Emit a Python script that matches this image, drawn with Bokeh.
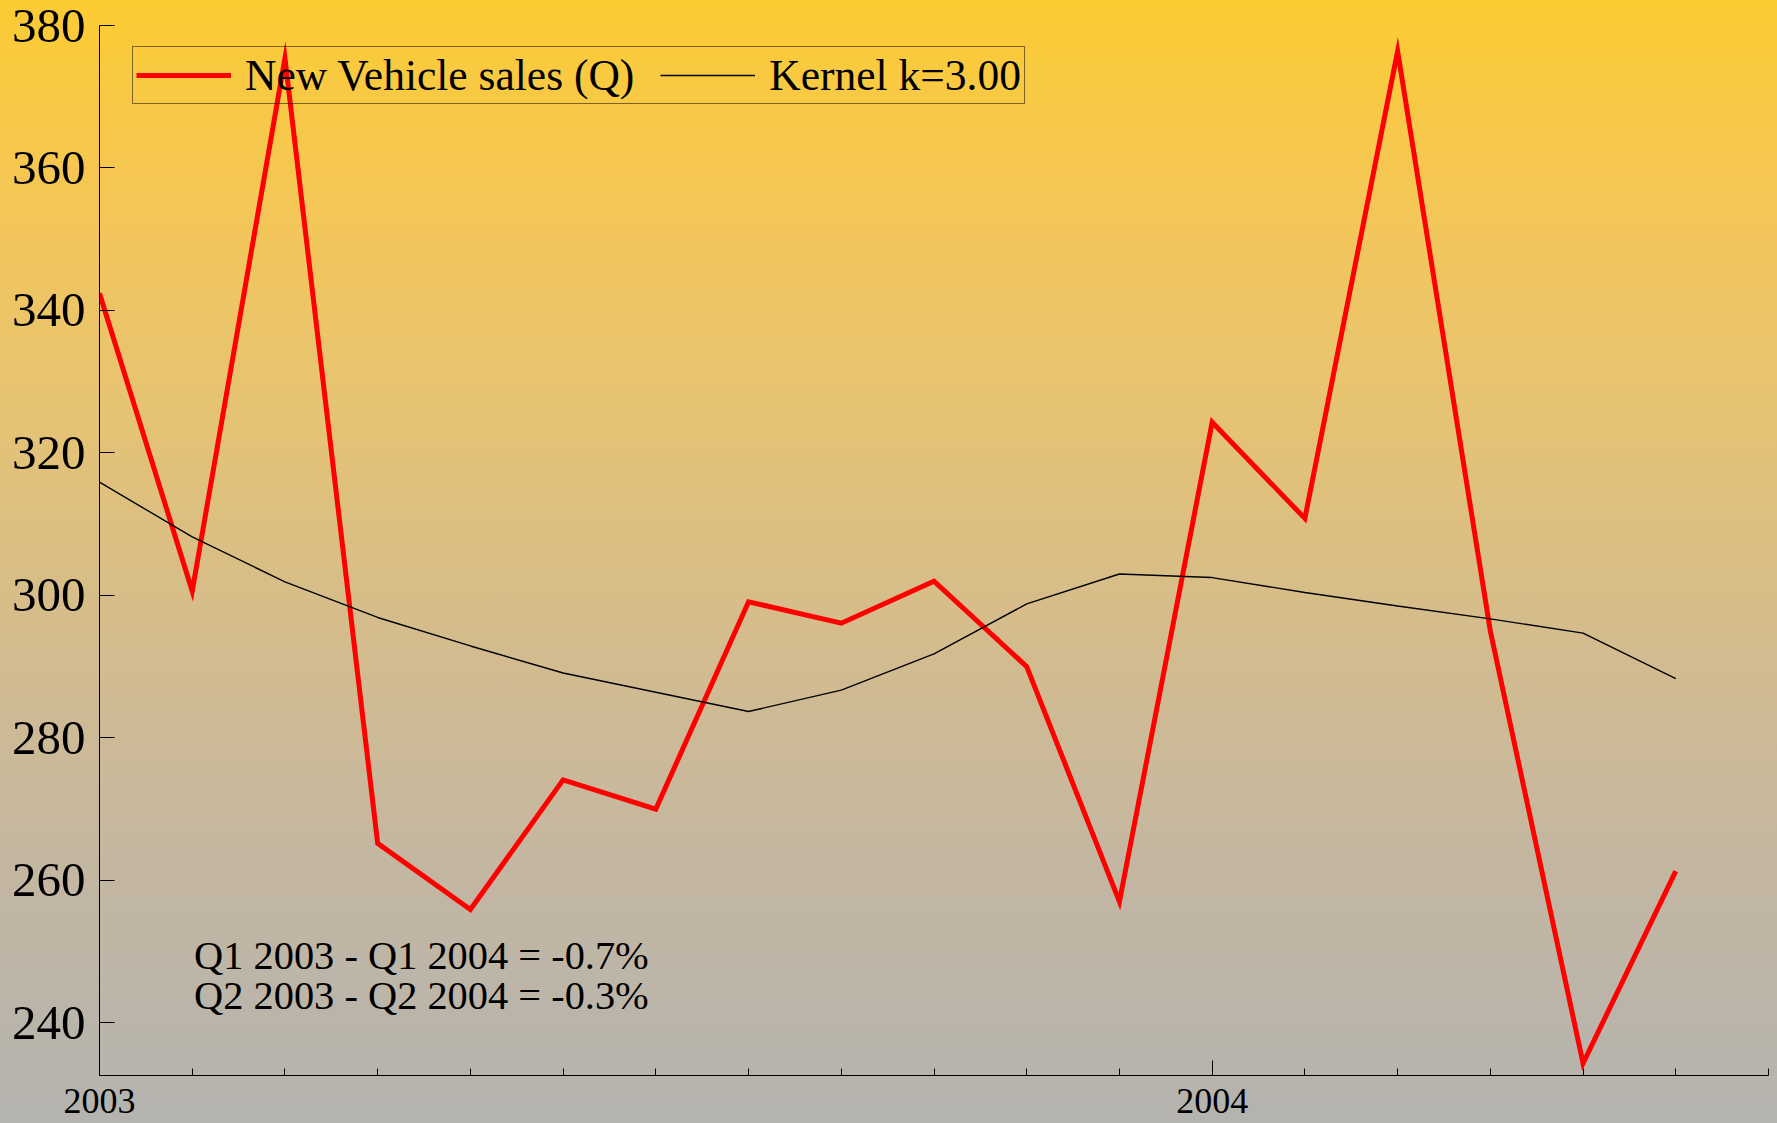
from bokeh.plotting import figure
from bokeh.models import FixedTicker, Legend, LegendItem, Label
from bokeh.embed import file_html
from bokeh.resources import INLINE

# ---- data (monthly, Jan 2003 .. Jun 2004) ----
start_year = 2003
sales = [342.4, 300.6, 375.4, 265.2, 255.9, 274.1, 270.0, 299.1, 296.1,
         302.0, 290.0, 257.0, 324.3, 310.8, 376.4, 295.0, 234.3, 261.3]
kernel = [315.9, 308.2, 301.9, 296.9, 292.9, 289.1, 286.4, 283.7, 286.7,
          291.8, 298.8, 303.0, 302.5, 300.4, 298.5, 296.7, 294.7, 288.3]
year_ticks = [2003, 2004]
y_ticks = [240, 260, 280, 300, 320, 340, 360, 380]
notes = ["Q1 2003 - Q1 2004 = -0.7%", "Q2 2003 - Q2 2004 = -0.3%"]
note_y = [249.5, 243.8]
series_names = ["New Vehicle sales (Q)", "Kernel k=3.00"]

x = [start_year + i / 12 for i in range(len(sales))]
month_ticks = [start_year + i / 12 for i in range(len(sales) + 1)]

FONT = "Liberation Serif"

p = figure(width=1777, height=1123, output_backend="svg", toolbar_location=None,
           x_range=(2003, 2004.5), y_range=(232.6, 380),
           min_border_left=99, min_border_right=9, min_border_top=25,
           min_border_bottom=48)
p.background_fill_alpha = 0
p.border_fill_alpha = 0
p.outline_line_color = None
p.grid.visible = False

r_sales = p.line(x, sales, line_color="#FF0000", line_width=5, line_join="miter")
r_kernel = p.line(x, kernel, line_color="#000000", line_width=1.4)

# axes
xa = p.xaxis[0]
xa.ticker = FixedTicker(ticks=year_ticks, minor_ticks=month_ticks)
xa.major_label_text_font = FONT
xa.major_label_text_font_size = "36px"
xa.major_label_text_color = "black"
xa.major_label_standoff = 13
xa.major_tick_in = 15
xa.major_tick_out = 0
xa.minor_tick_in = 7
xa.minor_tick_out = 0
xa.axis_line_color = "black"
xa.major_tick_line_color = "black"
xa.minor_tick_line_color = "black"

ya = p.yaxis[0]
ya.ticker = FixedTicker(ticks=y_ticks)
ya.major_label_text_font = FONT
ya.major_label_text_font_size = "49px"
ya.major_label_text_color = "black"
ya.major_label_standoff = 14
ya.major_tick_in = 15
ya.major_tick_out = 0
ya.minor_tick_line_color = None
ya.axis_line_color = "black"
ya.major_tick_line_color = "black"

# legend
legend = Legend(items=[LegendItem(label=series_names[0], renderers=[r_sales]),
                       LegendItem(label=series_names[1], renderers=[r_kernel])],
                orientation="horizontal", location=(33, 971),
                label_text_font=FONT, label_text_font_size="43.5px",
                label_text_color="black",
                glyph_width=95, glyph_height=20, label_standoff=14, spacing=26,
                padding=3, margin=0,
                border_line_color="black", border_line_width=1,
                background_fill_alpha=0)
p.add_layout(legend, "center")

# notes
for txt, yv in zip(notes, note_y):
    p.add_layout(Label(x=2003.085, y=yv, text=txt, text_font=FONT,
                       text_font_size="40.4px", text_color="black",
                       text_baseline="alphabetic", text_align="left"))

html = file_html(p, INLINE)
css = ("<style>html{height:100%;background:linear-gradient(to bottom,"
       "#FCCB33 0%,#F3C65A 20%,#E8C470 34%,#D4BC8C 56%,#C5B7A0 75%,#B4B3AF 100%);}"
       "body{background:transparent;}</style></head>")
html = html.replace("</head>", css, 1)
open("out.html", "w").write(html)
